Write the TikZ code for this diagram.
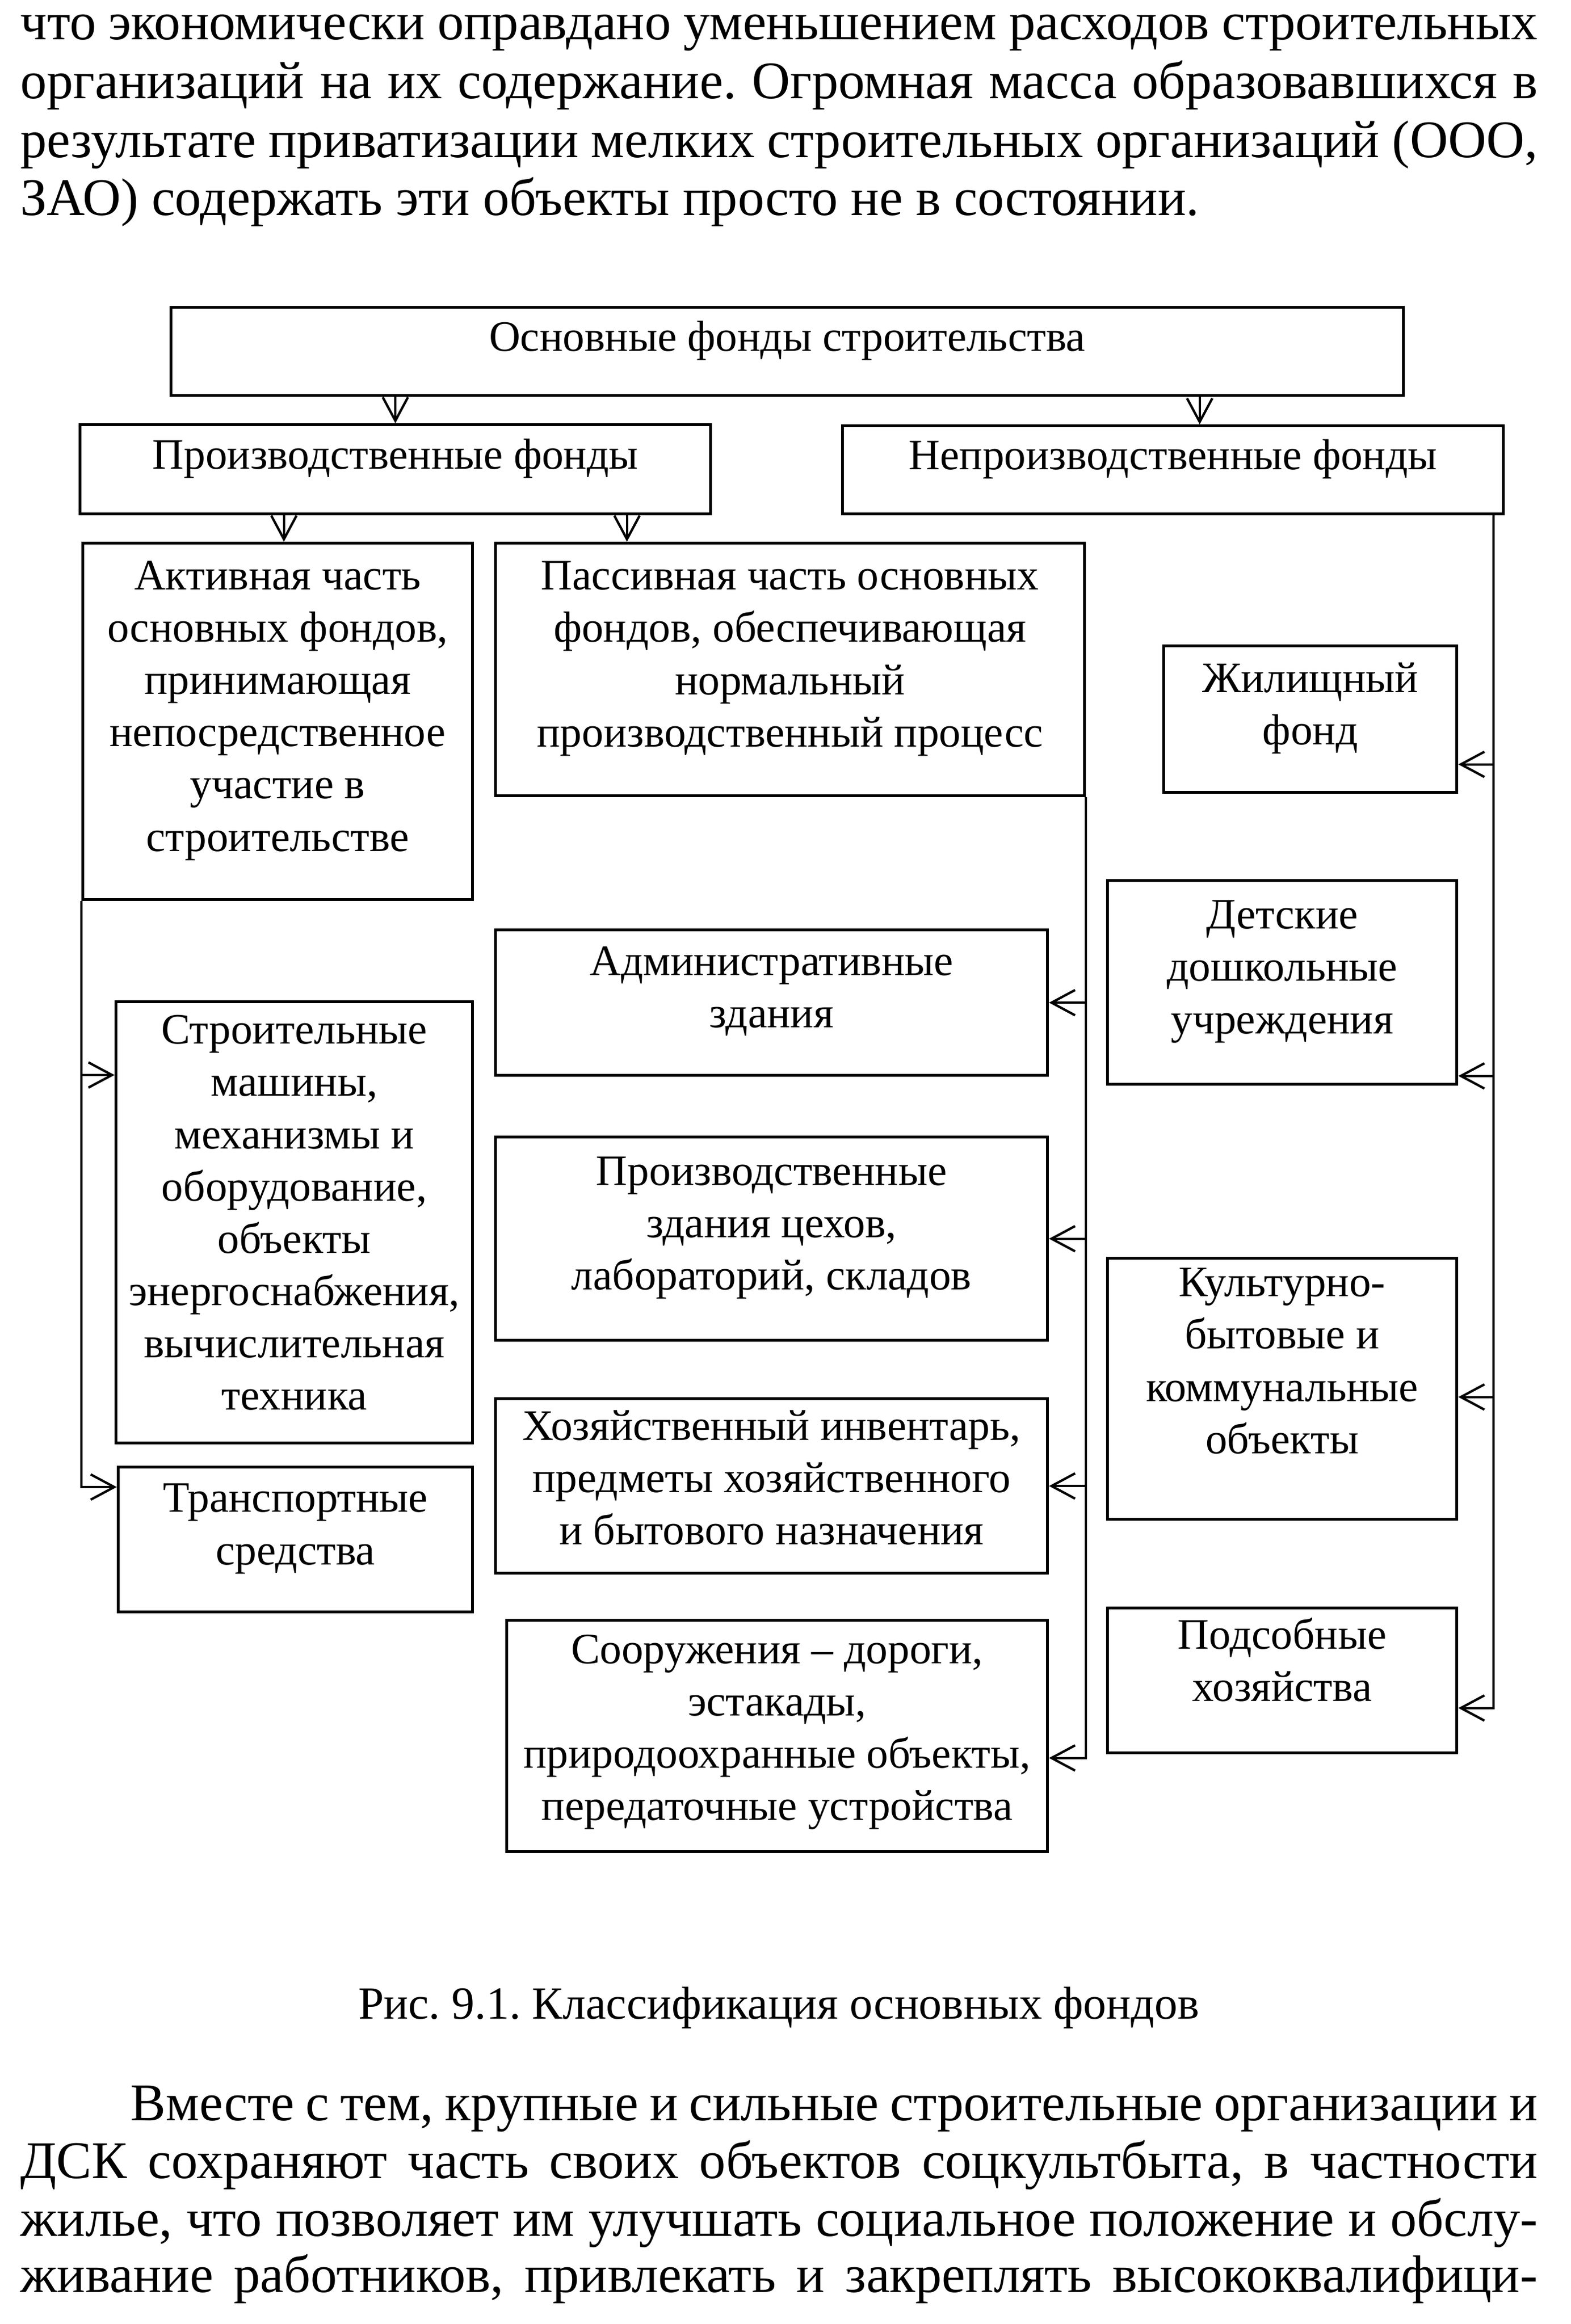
\documentclass[tikz,border=0pt]{standalone}
\usepackage{fontspec}
\setmainfont{Liberation Serif}
\usetikzlibrary{arrows.meta}
\frenchspacing

\begin{document}
\begin{tikzpicture}[y=-1cm,
    box/.style={draw, line width=1.5pt, anchor=north west, align=center, inner sep=0pt, text depth=0.55cm, font=\fontsize{22}{26.5}\selectfont},
    arr/.style={line width=1.2pt, -{Straight Barb[length=4.2mm, width=4.5mm, line width=1.2pt]}},
    txt/.style={anchor=base west, inner sep=0pt, font=\fontsize{26.8}{30}\selectfont}]
    \useasboundingbox (0,0) rectangle (27.98,41.40);
    \fill[white] (0,0) rectangle (27.98,41.40);

    \node[txt] (p1) at (0.36,0.71) {\makebox[27.02cm][s]{что экономически оправдано уменьшением расходов строительных}};
    \node[txt] (p2) at (0.36,1.76) {\makebox[27.02cm][s]{организаций на их содержание. Огромная масса образовавшихся в}};
    \node[txt] (p3) at (0.36,2.81) {\makebox[27.02cm][s]{результате приватизации мелких строительных организаций (ООО,}};
    \node[txt] (p4) at (0.36,3.84) {ЗАО) содержать эти объекты просто не в состоянии.};

    \node[box, minimum width=21.95cm, minimum height=1.57cm] (osn) at (3.02,5.45) {Основные фонды строительства};
    \node[box, minimum width=11.23cm, minimum height=1.59cm] (prf) at (1.40,7.54) {Производственные фонды};
    \node[box, minimum width=11.77cm, minimum height=1.57cm] (nprf) at (14.98,7.56) {Непроизводственные фонды};
    \node[box, minimum width=6.94cm, minimum height=6.35cm] (akt) at (1.45,9.65) {Активная часть\\основных фондов,\\принимающая\\непосредственное\\участие в\\строительстве};
    \node[box, minimum width=10.49cm, minimum height=4.50cm] (pas) at (8.80,9.65) {Пассивная часть основных\\фондов, обеспечивающая\\нормальный\\производственный процесс};
    \node[box, minimum width=5.22cm, minimum height=2.61cm] (zhil) at (20.70,11.48) {Жилищный\\фонд};
    \node[box, minimum width=6.22cm, minimum height=3.63cm] (det) at (19.70,15.66) {Детские\\дошкольные\\учреждения};
    \node[box, minimum width=6.22cm, minimum height=4.65cm, text depth=1.0cm] (kult) at (19.70,22.39) {Культурно-\\бытовые и\\коммунальные\\объекты};
    \node[box, minimum width=6.22cm, minimum height=2.58cm, text depth=0.75cm] (pods) at (19.70,28.62) {Подсобные\\хозяйства};
    \node[box, minimum width=6.35cm, minimum height=7.86cm, text depth=0.35cm] (mash) at (2.04,17.82) {Строительные\\машины,\\механизмы и\\оборудование,\\объекты\\энергоснабжения,\\вычислительная\\техника};
    \node[box, minimum width=6.31cm, minimum height=2.58cm] (trans) at (2.08,26.11) {Транспортные\\средства};
    \node[box, minimum width=9.83cm, minimum height=2.59cm] (adm) at (8.80,16.54) {Административные\\здания};
    \node[box, minimum width=9.83cm, minimum height=3.62cm] (przd) at (8.80,20.23) {Производственные\\здания цехов,\\лабораторий, складов};
    \node[box, minimum width=9.83cm, minimum height=3.11cm, text depth=0.3cm] (hoz) at (8.80,24.89) {Хозяйственный инвентарь,\\предметы хозяйственного\\и бытового назначения};
    \node[box, minimum width=9.63cm, minimum height=4.12cm, text depth=0.3cm] (soor) at (9.00,28.84) {Сооружения – дороги,\\эстакады,\\природоохранные объекты,\\передаточные устройства};

    \draw[arr] (osn.south -| prf.north) -- (prf.north);
    \draw[arr] ([xshift=7.345cm]osn.south) -- ([xshift=7.345cm]osn.south |- nprf.north);
    \draw[arr] ([xshift=-1.985cm]prf.south) -- ([xshift=-1.985cm]prf.south |- akt.north);
    \draw[arr] ([xshift=4.125cm]prf.south) -- ([xshift=4.125cm]prf.south |- pas.north);

    \coordinate (lb) at (akt.south west);
    \draw[arr] (lb) |- ([yshift=-0.38cm]trans.north west);
    \draw[arr] ([yshift=-1.33cm]mash.north west -| lb) -- ([yshift=-1.33cm]mash.north west);

    \coordinate (mb) at (pas.south east);
    \draw[arr] (mb) |- ([yshift=-0.39cm]soor.east);
    \draw[arr] (adm.east -| mb) -- (adm.east);
    \draw[arr] (przd.east -| mb) -- (przd.east);
    \draw[arr] (hoz.east -| mb) -- (hoz.east);

    \coordinate (rb) at ([xshift=-0.2cm]nprf.south east);
    \draw[arr] (rb) |- ([yshift=-0.49cm]pods.east);
    \draw[arr] ([yshift=-0.805cm]zhil.east -| rb) -- ([yshift=-0.805cm]zhil.east);
    \draw[arr] ([yshift=-1.665cm]det.east -| rb) -- ([yshift=-1.665cm]det.east);
    \draw[arr] ([yshift=-0.145cm]kult.east -| rb) -- ([yshift=-0.145cm]kult.east);

    \node[anchor=base, inner sep=0pt, font=\fontsize{23.3}{28}\selectfont] (cap) at (13.87,35.96) {Рис. 9.1. Классификация основных фондов};

    \node[txt] (q1) at (2.32,37.77) {\makebox[25.06cm][s]{Вместе с тем, крупные и сильные строительные организации и}};
    \node[txt] (q2) at (0.36,38.80) {\makebox[27.02cm][s]{ДСК сохраняют часть своих объектов соцкультбыта, в частности}};
    \node[txt] (q3) at (0.36,39.83) {\makebox[27.02cm][s]{жилье, что позволяет им улучшать социальное положение и обслу-}};
    \node[txt] (q4) at (0.36,40.83) {\makebox[27.02cm][s]{живание работников, привлекать и закреплять высококвалифици-}};
\end{tikzpicture}
\end{document}
